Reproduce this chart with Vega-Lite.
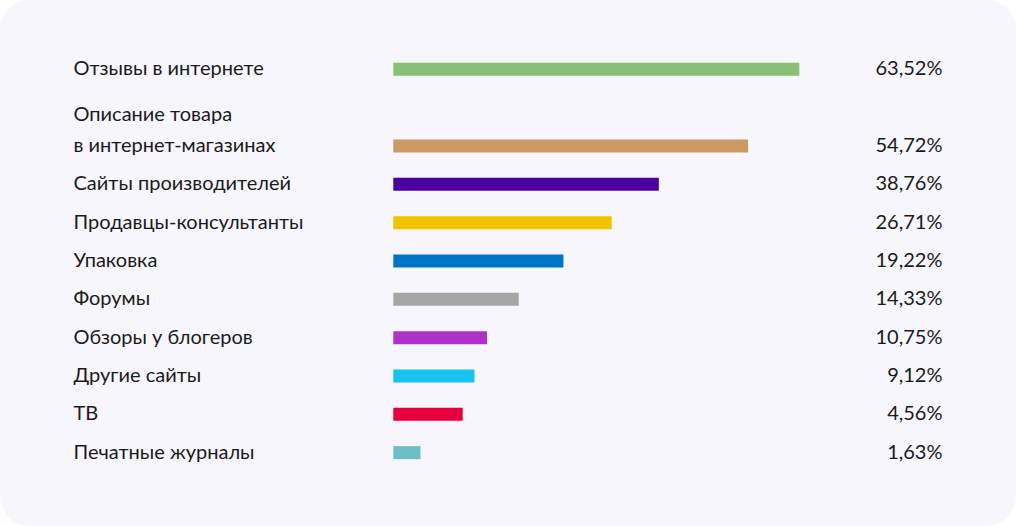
{
  "$schema": "https://vega.github.io/schema/vega-lite/v6.json",
  "width": 1016,
  "height": 526,
  "autosize": {"type": "none"},
  "padding": 0,
  "background": "#ffffff",
  "config": {
    "view": {"fill": "#f7f6fc", "cornerRadius": 30, "stroke": null},
    "font": "Lato"
  },
  "data": {
    "values": [
      {"name": "Отзывы в интернете", "value": 63.52, "bar_length": 100},
      {"name": "Описание товара\nв интернет-магазинах", "value": 54.72, "bar_length": 87.4},
      {"name": "Сайты производителей", "value": 38.76, "bar_length": 65.4},
      {"name": "Продавцы-консультанты", "value": 26.71, "bar_length": 53.8},
      {"name": "Упаковка", "value": 19.22, "bar_length": 41.9},
      {"name": "Форумы", "value": 14.33, "bar_length": 30.9},
      {"name": "Обзоры у блогеров", "value": 10.75, "bar_length": 23.1},
      {"name": "Другие сайты", "value": 9.12, "bar_length": 20.0},
      {"name": "ТВ", "value": 4.56, "bar_length": 17.1},
      {"name": "Печатные журналы", "value": 1.63, "bar_length": 6.7}
    ]
  },
  "layer": [
    {
      "mark": {"type": "bar", "size": 13},
      "encoding": {
        "y": {
          "field": "name",
          "type": "nominal",
          "scale": {
            "domain": ["Отзывы в интернете", " ", "Описание товара\nв интернет-магазинах", "Сайты производителей", "Продавцы-консультанты", "Упаковка", "Форумы", "Обзоры у блогеров", "Другие сайты", "ТВ", "Печатные журналы"],
            "range": [50.2, 471.8],
            "paddingInner": 0,
            "paddingOuter": 0
          },
          "axis": {
            "orient": "left",
            "title": null,
            "domain": false,
            "ticks": false,
            "grid": false,
            "offset": -73,
            "labelPadding": 0,
            "labelAlign": "left",
            "labelBaseline": "middle",
            "labelFont": "Lato",
            "labelFontSize": 20,
            "labelColor": "#1a1a1a",
            "labelLimit": 0,
            "labelLineHeight": 31,
            "labelOffset": {"condition": {"test": "indexof(datum.value, '\\n') >= 0", "value": -31}, "value": 0},
            "labelExpr": "split(datum.label, '\\n')"
          }
        },
        "x": {
          "field": "bar_length",
          "type": "quantitative",
          "scale": {"domain": [0, 100], "range": [393.3, 799.3], "nice": false, "zero": true},
          "axis": null
        },
        "color": {
          "field": "name",
          "type": "nominal",
          "scale": {
            "domain": ["Отзывы в интернете", "Описание товара\nв интернет-магазинах", "Сайты производителей", "Продавцы-консультанты", "Упаковка", "Форумы", "Обзоры у блогеров", "Другие сайты", "ТВ", "Печатные журналы"],
            "range": ["#88c075", "#cc9a62", "#4b00a0", "#f0c200", "#0074c4", "#a6a6a6", "#ae32c8", "#15c3f0", "#e8003c", "#6dbfc5"]
          },
          "legend": null
        }
      }
    },
    {
      "mark": {"type": "tick", "opacity": 0},
      "encoding": {
        "y": {
          "field": "value",
          "type": "nominal",
          "scale": {
            "domain": [63.52, " ", 54.72, 38.76, 26.71, 19.22, 14.33, 10.75, 9.12, 4.56, 1.63],
            "range": [50.2, 471.8],
            "paddingInner": 0,
            "paddingOuter": 0
          },
          "axis": {
            "orient": "right",
            "title": null,
            "domain": false,
            "ticks": false,
            "grid": false,
            "offset": -74,
            "labelPadding": 0,
            "labelAlign": "right",
            "labelBaseline": "middle",
            "labelFont": "Lato",
            "labelFontSize": 20,
            "labelColor": "#1a1a1a",
            "labelLimit": 0,
            "labelExpr": "isNumber(datum.value) ? replace(format(datum.value, '.2f'), '.', ',') + '%' : ''"
          }
        },
        "x": {"field": "bar_length", "type": "quantitative"}
      }
    }
  ],
  "resolve": {"scale": {"y": "independent"}, "axis": {"y": "independent"}}
}
